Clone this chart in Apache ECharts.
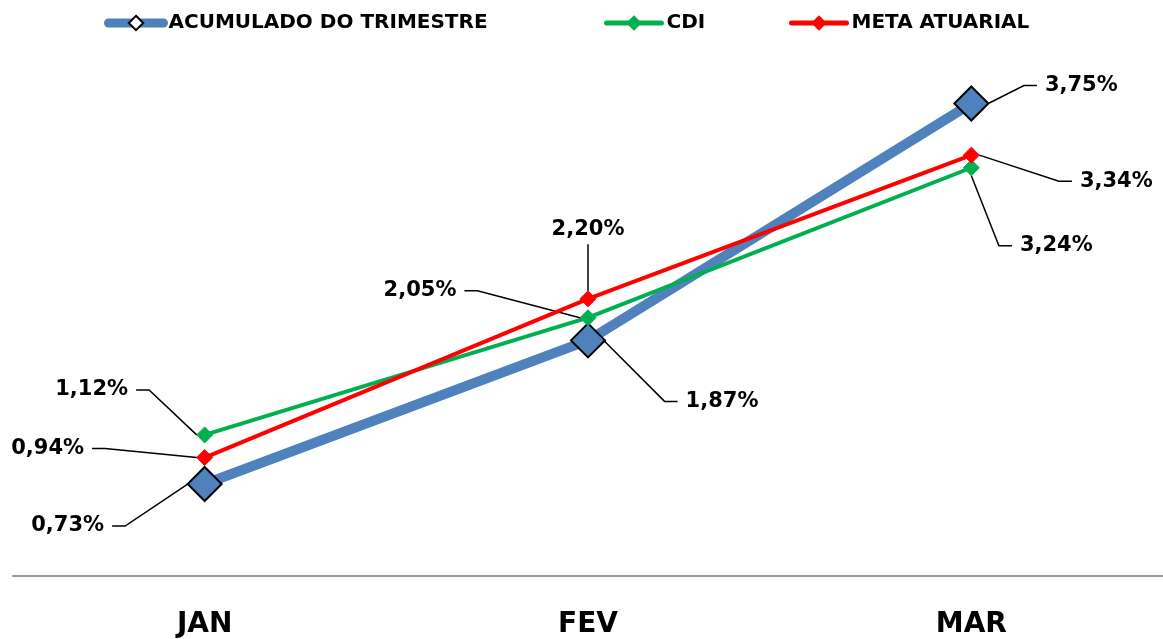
<!DOCTYPE html>
<html>
<head>
<meta charset="utf-8">
<script src="https://cdn.jsdelivr.net/npm/echarts@6/dist/echarts.min.js"></script>
<style>
  html, body { margin: 0; padding: 0; background: #ffffff; }
  #chart { width: 1163px; height: 639px; }
</style>
</head>
<body>
<div id="chart"></div>
<script>
// Months of the quarter
const months = ['JAN', 'FEV', 'MAR'];

// Accumulated returns (%)
const acumulado = [0.73, 1.87, 3.75];
const cdi = [1.12, 2.05, 3.24];
const metaAtuarial = [0.94, 2.20, 3.34];

const seriesNames = ['ACUMULADO DO TRIMESTRE', 'CDI', 'META ATUARIAL'];

// Label offsets (px) from each point to its callout text
const acumOffsets = [[-137, 42], [134, 61], [110, -18]];
const cdiOffsets = [[-113, -45], [-168, -27], [85, 78]];
const metaOffsets = [[-157, -9], [0, -69], [145, 26]];

const FONT = 'DejaVu Sans';

function fmt(v) {
  return v.toFixed(2).replace('.', ',') + '%';
}

function makeLabel(offsets) {
  return {
    label: {
      show: true,
      position: 'inside',
      formatter: p => fmt(p.value),
      fontFamily: FONT,
      fontWeight: 'bold',
      fontSize: 21,
      color: '#000',
      padding: [4, 8],
      backgroundColor: 'rgba(255,255,255,0)'
    },
    labelLine: {
      show: true,
      showAbove: true,
      length2: 13,
      minTurnAngle: 0,
      lineStyle: { color: '#000', width: 1.5 }
    },
    labelLayout: p => ({ dx: offsets[p.dataIndex][0], dy: offsets[p.dataIndex][1] })
  };
}

const chart = echarts.init(document.getElementById('chart'), null, { renderer: 'canvas' });

const legendBase = {
  top: 8,
  itemWidth: 55,
  itemHeight: 16,
  textStyle: { fontFamily: FONT, fontWeight: 'bold', fontSize: 20, color: '#000' }
};

chart.setOption({
  animation: false,
  backgroundColor: '#ffffff',
  legend: [
    Object.assign({}, legendBase, {
      left: 99,
      top: 8,
      itemHeight: 18,
      data: [seriesNames[0]],
      lineStyle: { width: 9, cap: 'round' },
      itemStyle: { color: '#ffffff', borderColor: '#000', borderWidth: 2 }
    }),
    Object.assign({}, legendBase, {
      left: 599,
      data: [seriesNames[1]],
      lineStyle: { width: 5, cap: 'round' }
    }),
    Object.assign({}, legendBase, {
      left: 784,
      data: [seriesNames[2]],
      lineStyle: { width: 5, cap: 'round' }
    })
  ],
  grid: { left: 13, right: -5, top: 72, bottom: 58, containLabel: false },
  xAxis: {
    type: 'category',
    data: months,
    boundaryGap: true,
    axisLine: { show: true, lineStyle: { color: '#999999', width: 2 } },
    axisTick: { show: false },
    axisLabel: { fontFamily: FONT, fontWeight: 'bold', fontSize: 28, color: '#000', margin: 35 },
    splitLine: { show: false }
  },
  yAxis: {
    type: 'value',
    min: 0,
    max: 4,
    show: false,
    splitLine: { show: false }
  },
  series: [
    Object.assign({
      name: seriesNames[0],
      type: 'line',
      data: acumulado,
      symbol: 'diamond',
      symbolSize: 34,
      z: 2,
      lineStyle: { color: '#4F81BD', width: 10 },
      itemStyle: { color: '#4F81BD', borderColor: '#000', borderWidth: 2 }
    }, makeLabel(acumOffsets)),
    Object.assign({
      name: seriesNames[1],
      type: 'line',
      data: cdi,
      symbol: 'diamond',
      symbolSize: 16,
      z: 3,
      lineStyle: { color: '#00B050', width: 4 },
      itemStyle: { color: '#00B050', borderColor: '#00B050', borderWidth: 1 }
    }, makeLabel(cdiOffsets)),
    Object.assign({
      name: seriesNames[2],
      type: 'line',
      data: metaAtuarial,
      symbol: 'diamond',
      symbolSize: 16,
      z: 4,
      lineStyle: { color: '#FF0000', width: 4 },
      itemStyle: { color: '#FF0000', borderColor: '#FF0000', borderWidth: 1 }
    }, makeLabel(metaOffsets))
  ]
});
</script>
</body>
</html>
